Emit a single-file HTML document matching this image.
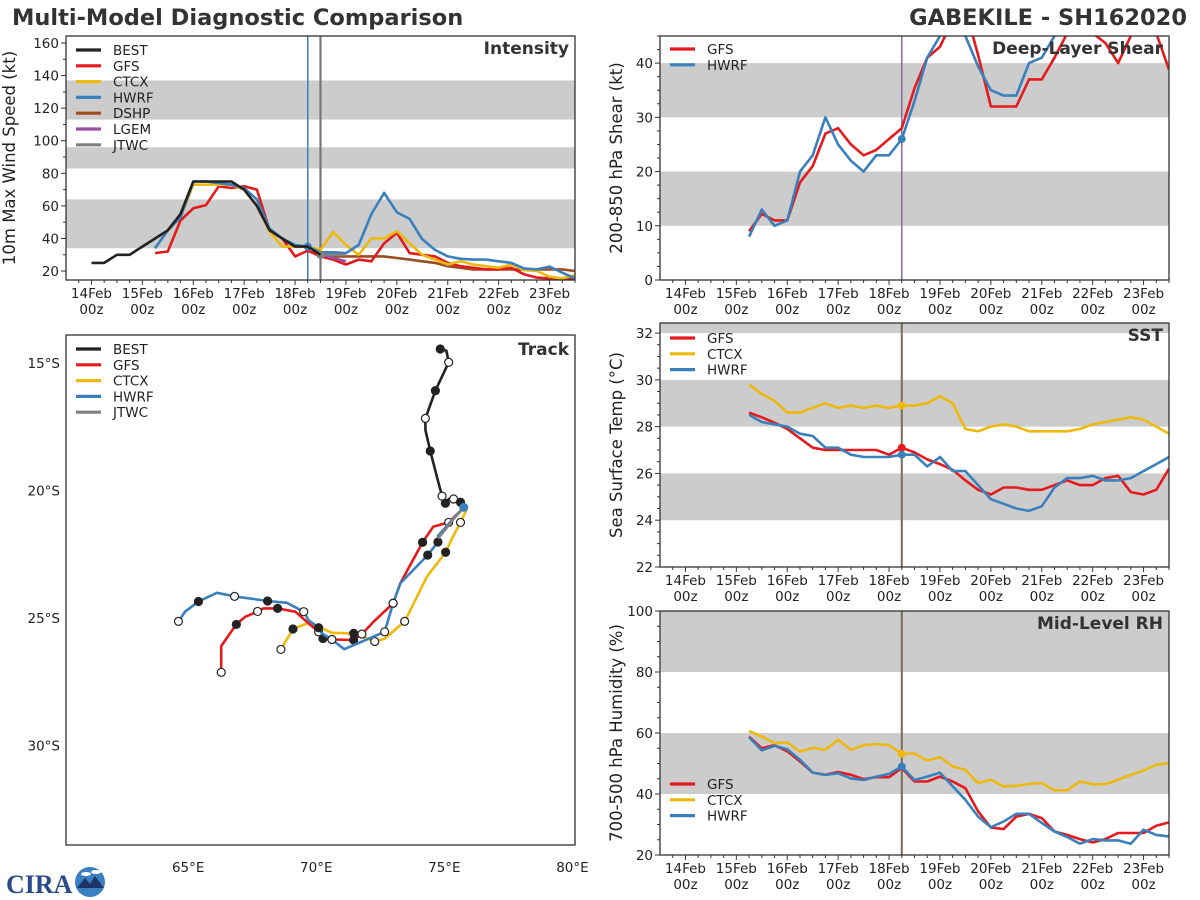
<!DOCTYPE html>
<html><head><meta charset="utf-8">
<style>
html,body{margin:0;padding:0;background:#fff;}
svg{display:block;font-family:"DejaVu Sans","Liberation Sans",sans-serif;}
</style></head>
<body>
<svg id="chart" width="1200" height="900" viewBox="0 0 1200 900" xmlns="http://www.w3.org/2000/svg">
<text x="12" y="25" font-size="22.5" font-weight="bold" fill="#333">Multi-Model Diagnostic Comparison</text>
<text x="1187" y="25" font-size="22.5" font-weight="bold" fill="#333" text-anchor="end">GABEKILE - SH162020</text>
<g>
<text x="6" y="893" font-size="26" font-weight="bold" fill="#2a4a8a" font-family="Liberation Serif,serif">CIRA</text>
<circle cx="90" cy="882" r="15" fill="#3a7fc0"/>
<path d="M77 888 L85 878 L90 884 L95 876 L104 888 Z" fill="#1e3366"/>
<ellipse cx="86" cy="874" rx="5" ry="2" fill="#fff"/><ellipse cx="96" cy="872" rx="5" ry="2" fill="#fff"/>
</g>
</svg>
<script>
// ---- shared time axis (days since 14Feb 00z) ----
var dayLabels = ["14Feb","15Feb","16Feb","17Feb","18Feb","19Feb","20Feb","21Feb","22Feb","23Feb"];
// ---- Intensity (kt) ----
var bestInt = [25,25,30,30,35,40,45,55,75,75,75,75,70,60,45,40,35,35,30];
var gfsInt = [31,32,51,58.5,60.5,72,71,72,70,45,40,29,32.5,29,27,24,27,26,37,43.5,31,30,29,25,23,22,21,21,22,18,16,15.5,15,15.5];
var ctcxInt = [34,45,53,73,73,73,73,70,60,44,35,35,35,33,44,36,30,40,40,44.5,37,30,27,24,26,24,23,22,24,20.6,20,16.5,15.5,17.5];
var hwrfInt = [34,45,53,75,75,74,73,71,64,46,40,36,35,31.5,31.5,31,36,55,68,56,52,39.5,33,29,27.5,27,27,26,25,21.6,21,22.7,19,15.5];
var dshpInt = [30,29,29,29,29,29,28,27,26,25,23,22,21,21,21,21,21,21,21,21,20];
var lgemInt = [30,28,26];
var jtwcInt = [30,30,30];
// ---- Shear (kt) ----
var gfsShear = [9,12.2,11,11,18,21,27,28,25,23,24,26,28,35.4,41,43,48,50,41.5,32,32,32,37,37,41,45.5,47,45.5,43.7,40,45,48,45.5,38.8];
var hwrfShear = [8,13,10,11,20,23,30,25,22,20,23,23,26,33,41,45,48,45,39.4,35,34,34,40,41,45,48,50,50,50,50,50,50,50,50];
// ---- SST (C) ----
var gfsSst = [28.6,28.4,28.17,27.9,27.5,27.1,27.0,27.0,27.0,27.0,27.0,26.8,27.1,26.9,26.6,26.4,26.15,25.7,25.3,25.1,25.4,25.4,25.3,25.3,25.5,25.7,25.5,25.5,25.8,25.9,25.2,25.1,25.3,26.2];
var ctcxSst = [29.8,29.4,29.1,28.6,28.6,28.8,29.0,28.8,28.9,28.8,28.9,28.8,28.9,28.9,29.0,29.3,29.0,27.9,27.8,28.0,28.1,28.0,27.8,27.8,27.8,27.8,27.9,28.1,28.2,28.3,28.4,28.3,28.0,27.7];
var hwrfSst = [28.5,28.2,28.1,28.0,27.7,27.6,27.1,27.1,26.8,26.7,26.7,26.7,26.8,26.8,26.3,26.7,26.1,26.1,25.5,24.9,24.7,24.5,24.4,24.6,25.4,25.8,25.8,25.9,25.7,25.7,25.8,26.1,26.4,26.7];
// ---- RH (%) ----
var gfsRh = [58.8,55,56,54,50.7,47,46.3,47.2,46.3,44.9,45.5,45.5,48.5,44.1,44.1,45.7,44.1,41.9,34.3,29.0,28.5,32.6,33.5,32.1,27.7,26.6,25.2,24.1,25.2,27.2,27.2,27.2,29.6,30.7];
var ctcxRh = [60.7,58.8,56.7,56.9,53.9,55.1,54.5,57.8,54.5,56.0,56.4,56.0,53.2,53.2,51.0,52.1,49.0,47.9,43.6,44.7,42.5,42.7,43.3,43.6,41.2,41.2,44.1,43.2,43.2,44.7,46.3,47.7,49.6,50.1];
var hwrfRh = [58.6,54.3,55.8,54.7,51.2,47,46.3,46.8,45.1,44.6,45.7,46.6,49.0,44.6,45.7,47.0,42.5,38.1,32.6,29.1,31.0,33.5,33.5,30.5,27.7,25.9,23.7,25.2,24.8,24.8,23.7,28.3,26.6,26.1];
// ---- Tracks (lon E, lat S) ----
var bestLon = [74.84,75.08,75.17,74.65,74.26,74.26,74.45,74.71,74.91,75.04,75.17,75.36,75.63,75.76];
var bestLat = [14.45,14.52,14.97,16.08,17.17,17.63,18.45,19.46,20.22,20.50,20.33,20.33,20.46,20.66];
var bestMk = [1,0,2,1,2,0,1,0,2,1,0,2,1,0];
var gfsLon = [75.73,75.17,74.56,74.15,73.28,73.0,72.24,71.78,71.46,70.68,70.26,70.09,69.77,69.18,68.49,67.94,67.71,67.23,66.88,66.29,66.29];
var gfsLat = [20.70,21.25,21.42,22.03,23.64,24.42,25.14,25.63,25.86,25.84,25.80,25.54,25.27,24.75,24.62,24.62,24.74,24.95,25.25,26.10,27.13];
var gfsMk = [0,2,0,1,0,2,0,2,1,0,1,2,0,0,1,0,2,0,1,0,2];
var hwrfLon = [75.76,75.36,74.75,74.75,74.35,73.28,73.0,72.67,71.09,70.61,70.22,70.09,69.70,69.51,68.85,68.10,66.81,66.12,65.40,64.88,64.62];
var hwrfLat = [20.66,21.09,21.78,22.02,22.53,23.64,24.42,25.54,26.22,25.84,25.60,25.38,25.08,24.75,24.40,24.33,24.15,24.01,24.35,24.75,25.13];
var hwrfMk = [0,0,0,1,1,0,2,2,0,2,0,1,0,2,0,1,2,0,1,0,2];
var ctcxLon = [75.86,75.63,75.30,75.05,74.32,73.45,72.67,72.28,71.46,70.61,70.09,69.64,69.09,68.62];
var ctcxLat = [20.76,21.25,21.88,22.42,23.38,25.13,25.81,25.92,25.60,25.58,25.34,25.21,25.43,26.23];
var ctcxMk = [0,2,0,1,0,2,0,2,1,0,0,0,1,2];
var jtwcLon = [75.76,75.43,74.75];
var jtwcLat = [20.66,21.03,21.88];

var C = {best:"#222222",gfs:"#e41a1c",ctcx:"#edb90d",hwrf:"#3a80bd",dshp:"#9a4e22",lgem:"#9b4ea3",jtwc:"#808080"};
var NS="http://www.w3.org/2000/svg";
var svg=document.getElementById("chart");
function mk(tag,attrs,parent){var e=document.createElementNS(NS,tag);for(var k in attrs)e.setAttribute(k,attrs[k]);(parent||svg).appendChild(e);return e;}

function panel(cfg){
  var g=mk("g",{});
  
  
  var xs=function(d){return cfg.x0+(d+0.5)/10*(cfg.x1-cfg.x0);};
  var ys=function(v){return cfg.y1-(v-cfg.ymin)/(cfg.ymax-cfg.ymin)*(cfg.y1-cfg.y0);};
  cfg.bands.forEach(function(b){
    var top=Math.max(cfg.y0,ys(b[1])),bot=Math.min(cfg.y1,ys(b[0]));
    var r=mk("rect",{x:cfg.x0,y:top,width:cfg.x1-cfg.x0,height:bot-top,fill:"#cccccc"},g);
    
    
  });
  cfg.vlines.forEach(function(v){
    var l=mk("line",{x1:xs(v[0]),x2:xs(v[0]),y1:cfg.y0,y2:cfg.y1,stroke:v[1],"stroke-width":v[2]},g);
    
    
  });
  var clipId="c"+cfg.name;
  var cp=mk("clipPath",{id:clipId},g);mk("rect",{x:cfg.x0,y:cfg.y0,width:cfg.x1-cfg.x0,height:cfg.y1-cfg.y0},cp);
  var sg=mk("g",{"clip-path":"url(#"+clipId+")"},g);
  cfg.series.forEach(function(s){
    var pts=s.vals.map(function(v,i){return xs(s.start+i*0.25).toFixed(1)+","+ys(v).toFixed(1);}).join(" ");
    var p=mk("polyline",{points:pts,fill:"none",stroke:s.color,"stroke-width":2.6,"stroke-linejoin":"round"},sg);
    
    
    if(s.dot!==undefined){var i=Math.round((s.dot-s.start)/0.25);
      var c=mk("circle",{cx:xs(s.dot),cy:ys(s.vals[i]),r:4,fill:s.color},sg);
      
      }
  });
  var fr=mk("rect",{x:cfg.x0,y:cfg.y0,width:cfg.x1-cfg.x0,height:cfg.y1-cfg.y0,fill:"none",stroke:"#333","stroke-width":1.3},g);
  
  
  var st=Math.ceil(cfg.ymin/cfg.minor)*cfg.minor;
  for(var v=st;v<=cfg.ymax+1e-6;v+=cfg.minor){
    var isMaj=Math.abs(v/cfg.major-Math.round(v/cfg.major))<1e-6;
    mk("line",{x1:cfg.x0,x2:cfg.x0-(isMaj?5:3),y1:ys(v),y2:ys(v),stroke:"#333","stroke-width":1},g);
    if(isMaj){var t=mk("text",{x:cfg.x0-7,y:ys(v)+5,"font-size":13.5,"text-anchor":"end",fill:"#222"},g);t.textContent=Math.round(v);
      
      }
  }
  for(var d=-0.25;d<=9.5;d+=0.25){
    var maj=Math.abs(d-Math.round(d))<1e-6;
    mk("line",{x1:xs(d),x2:xs(d),y1:cfg.y1,y2:cfg.y1+(maj?5:3),stroke:"#333","stroke-width":1},g);
  }
  dayLabels.forEach(function(lab,i){
    var t=mk("text",{x:xs(i),y:cfg.y1+18,"font-size":13.5,"text-anchor":"middle",fill:"#222"},g);t.textContent=lab;
    
    
    var t2=mk("text",{x:xs(i),y:cfg.y1+34,"font-size":13.5,"text-anchor":"middle",fill:"#222"},g);t2.textContent="00z";
    
    
  });
  var ttl=mk("text",{x:cfg.x1-6,y:cfg.y0+18,"font-size":17,"font-weight":"bold","text-anchor":"end",fill:"#333"},g);ttl.textContent=cfg.title;
  
  
  var yl=mk("text",{x:0,y:0,"font-size":16.5,"text-anchor":"middle",fill:"#222",transform:"translate("+cfg.ylx+","+((cfg.y0+cfg.y1)/2)+") rotate(-90)"},g);yl.textContent=cfg.ylabel;
  
  
  legend(g,cfg.x0+10,cfg.legY,cfg.series.map(function(s){return [s.label,s.color];}),cfg.legOrder);
}
function legend(g,x,y,items,order){
  if(order)items=order.map(function(n){return items.filter(function(it){return it[0]===n;})[0];});
  items.forEach(function(it,i){
    var yy=y+i*15.8;
    var l=mk("line",{x1:x,x2:x+25,y1:yy,y2:yy,stroke:it[1],"stroke-width":3.2},g);
    
    
    var t=mk("text",{x:x+37,y:yy+5,"font-size":13.5,fill:"#222"},g);t.textContent=it[0];
    
    
  });
}
panel({name:"intensity-panel",x0:66,x1:575,y0:36,y1:280,ymin:14.5,ymax:164.3,major:20,minor:10,bands:[[34,64],[83,96],[113,137]],
 vlines:[[4.25,C.hwrf,1.5],[4.5,"#777",2.2]],title:"Intensity",ylabel:"10m Max Wind Speed (kt)",ylx:15,legY:50,
 legOrder:["BEST","GFS","CTCX","HWRF","DSHP","LGEM","JTWC"],
 series:[{label:"DSHP",color:C.dshp,vals:dshpInt,start:4.5},{label:"GFS",color:C.gfs,vals:gfsInt,start:1.25},
 {label:"CTCX",color:C.ctcx,vals:ctcxInt,start:1.25},{label:"HWRF",color:C.hwrf,vals:hwrfInt,start:1.25,dot:4.25},
 {label:"LGEM",color:C.lgem,vals:lgemInt,start:4.5},{label:"JTWC",color:C.jtwc,vals:jtwcInt,start:4.5,dot:4.5},
 {label:"BEST",color:C.best,vals:bestInt,start:0}]});
panel({name:"shear-panel",x0:660,x1:1169,y0:36,y1:280,ymin:0,ymax:45,major:10,minor:2.5,bands:[[10,20],[30,40]],
 vlines:[[4.25,"#8a6a9e",1.5]],title:"Deep-Layer Shear",ylabel:"200-850 hPa Shear (kt)",ylx:622,legY:49,
 series:[{label:"GFS",color:C.gfs,vals:gfsShear,start:1.25},{label:"HWRF",color:C.hwrf,vals:hwrfShear,start:1.25,dot:4.25}]});
panel({name:"sst-panel",x0:660,x1:1169,y0:323,y1:567,ymin:22,ymax:32.43,major:2,minor:0.5,bands:[[24,26],[28,30],[32,33]],
 vlines:[[4.25,"#7d6a55",2]],title:"SST",ylabel:"Sea Surface Temp (\u00b0C)",ylx:622,legY:338,
 series:[{label:"GFS",color:C.gfs,vals:gfsSst,start:1.25,dot:4.25},{label:"CTCX",color:C.ctcx,vals:ctcxSst,start:1.25,dot:4.25},{label:"HWRF",color:C.hwrf,vals:hwrfSst,start:1.25,dot:4.25}]});
panel({name:"rh-panel",x0:660,x1:1169,y0:611,y1:855,ymin:20,ymax:100,major:20,minor:5,bands:[[40,60],[80,100]],
 vlines:[[4.25,"#7d6a55",2]],title:"Mid-Level RH",ylabel:"700-500 hPa Humidity (%)",ylx:622,legY:784,
 series:[{label:"GFS",color:C.gfs,vals:gfsRh,start:1.25},{label:"CTCX",color:C.ctcx,vals:ctcxRh,start:1.25,dot:4.25},{label:"HWRF",color:C.hwrf,vals:hwrfRh,start:1.25,dot:4.25}]});

(function(){
  var T={x0:66,x1:575,y0:335,y1:845,lon0:60.23,lon1:80.1,lat0:13.9,lat1:33.9};
  var g=mk("g",{});
  
  
  var xs=function(l){return T.x0+(l-T.lon0)/(T.lon1-T.lon0)*(T.x1-T.x0);};
  var ys=function(l){return T.y0+(l-T.lat0)/(T.lat1-T.lat0)*(T.y1-T.y0);};
  function track(name,lon,lat,mkr,color){
    var pts=lon.map(function(v,i){return xs(v).toFixed(1)+","+ys(lat[i]).toFixed(1);}).join(" ");
    var p=mk("polyline",{points:pts,fill:"none",stroke:color,"stroke-width":2.6,"stroke-linejoin":"round"},g);
    
    
    if(mkr)mkr.forEach(function(m,i){ if(!m)return;
      var c=mk("circle",{cx:xs(lon[i]),cy:ys(lat[i]),r:4,fill:m===1?"#222":"#fff",stroke:"#222","stroke-width":1.2},g);
      
      
    });
  }
  track("ctcx",ctcxLon,ctcxLat,ctcxMk,C.ctcx);
  track("gfs",gfsLon,gfsLat,gfsMk,C.gfs);
  track("hwrf",hwrfLon,hwrfLat,hwrfMk,C.hwrf);
  track("jtwc",jtwcLon,jtwcLat,null,C.jtwc);
  track("best",bestLon,bestLat,bestMk,C.best);
  var d=mk("circle",{cx:xs(hwrfLon[0]),cy:ys(hwrfLat[0]),r:4.5,fill:C.hwrf},g);
  
  
  var fr=mk("rect",{x:T.x0,y:T.y0,width:T.x1-T.x0,height:T.y1-T.y0,fill:"none",stroke:"#333","stroke-width":1.3},g);
  
  
  [65,70,75,80].forEach(function(l){
    var t=mk("text",{x:xs(l),y:T.y1+27,"font-size":13.5,"text-anchor":"middle",fill:"#222"},g);t.textContent=l+"\u00b0E";
    
    
  });
  [15,20,25,30].forEach(function(l){
    var t=mk("text",{x:T.x0-6,y:ys(l)+5,"font-size":13.5,"text-anchor":"end",fill:"#222"},g);t.textContent=l+"\u00b0S";
    
    
  });
  var ttl=mk("text",{x:T.x1-6,y:T.y0+20,"font-size":17,"font-weight":"bold","text-anchor":"end",fill:"#333"},g);ttl.textContent="Track";
  
  
  legend(g,T.x0+10,349,[["BEST",C.best],["GFS",C.gfs],["CTCX",C.ctcx],["HWRF",C.hwrf],["JTWC",C.jtwc]]);
})();
</script>
</body></html>
